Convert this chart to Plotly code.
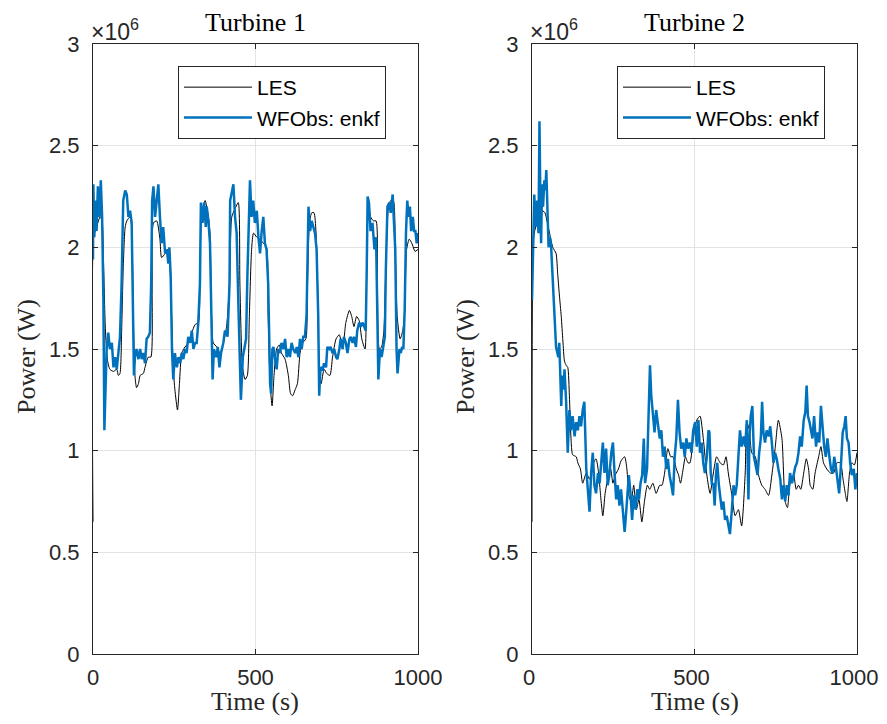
import plotly.graph_objects as go

# power in units of 1e6 W, time in s

# Turbine 1 - LES reference
t1_les_time = [0, 2, 11, 22, 28, 32, 38, 44, 52, 63,
               73, 78, 83, 88, 93, 99, 104, 114, 119, 124,
               129, 134, 140, 145, 155, 160, 170, 178, 182, 186,
               196, 206, 211, 222, 229, 235, 242, 247, 252, 260,
               266, 273, 283, 293, 304, 314, 324, 329, 334, 345,
               355, 360, 365, 370, 381, 391, 401, 411, 420, 427,
               437, 447, 452, 460, 468, 475, 481, 488, 494, 504,
               514, 524, 534, 539, 545, 551, 557, 565, 573, 580,
               591, 601, 608, 614, 622, 629, 637, 645, 655, 660,
               666, 673, 680, 686, 691, 696, 702, 711, 719, 729,
               737, 748, 758, 768, 778, 789, 796, 803, 811, 819,
               827, 837, 842, 847, 854, 863, 871, 875, 881, 888,
               895, 901, 908, 916, 924, 930, 936, 945, 953, 959,
               965, 973, 981, 991, 1000]
t1_les_power = [0.65, 2.05, 2.10, 2.15, 2.13, 1.95, 1.60, 1.45, 1.40, 1.39,
                1.40, 1.37, 1.38, 1.58, 1.90, 2.10, 2.13, 2.15, 2.10, 1.66,
                1.37, 1.31, 1.33, 1.37, 1.38, 1.41, 1.46, 1.46, 1.82, 2.12,
                2.13, 2.04, 1.95, 1.97, 1.99, 1.95, 1.66, 1.40, 1.30, 1.20,
                1.33, 1.48, 1.51, 1.53, 1.58, 1.62, 1.63, 1.90, 2.15, 2.23,
                2.15, 2.07, 1.66, 1.53, 1.51, 1.48, 1.53, 1.61, 1.82, 2.15,
                2.19, 2.22, 1.82, 1.41, 1.35, 1.37, 1.66, 1.99, 2.07, 2.05,
                2.04, 2.02, 2.00, 1.66, 1.33, 1.22, 1.37, 1.50, 1.52, 1.48,
                1.45, 1.37, 1.28, 1.27, 1.30, 1.33, 1.48, 1.53, 1.55, 1.82,
                2.12, 2.17, 2.17, 2.08, 1.82, 1.41, 1.33, 1.40, 1.38, 1.37,
                1.46, 1.55, 1.57, 1.50, 1.63, 1.69, 1.66, 1.61, 1.66, 1.64,
                1.55, 1.50, 1.90, 2.23, 2.15, 2.13, 2.13, 1.82, 1.50, 1.51,
                1.59, 1.90, 2.18, 2.23, 2.23, 1.99, 1.66, 1.55, 1.59, 1.69,
                1.99, 2.04, 2.02, 1.98, 1.99]

# Turbine 1 - WFObs: enkf estimate
t1_obs_time = [0, 1, 4, 7, 11, 15, 20, 24, 28, 32,
               35, 38, 42, 47, 52, 58, 63, 68, 73, 78,
               83, 88, 93, 99, 104, 109, 114, 119, 122, 126,
               129, 134, 140, 145, 150, 155, 160, 165, 170, 175,
               179, 182, 186, 191, 196, 201, 206, 211, 216, 222,
               227, 232, 235, 239, 243, 247, 252, 258, 263, 268,
               273, 278, 283, 288, 293, 299, 304, 309, 314, 319,
               324, 329, 332, 337, 342, 347, 350, 355, 360, 365,
               368, 372, 379, 384, 389, 394, 401, 406, 411, 414,
               420, 422, 427, 432, 437, 442, 447, 452, 455, 461,
               466, 471, 475, 479, 483, 488, 493, 498, 504, 509,
               514, 519, 524, 529, 534, 539, 545, 548, 552, 555,
               560, 565, 570, 575, 580, 586, 591, 596, 601, 606,
               611, 616, 622, 627, 632, 637, 642, 647, 652, 657,
               663, 668, 673, 678, 683, 688, 693, 696, 700, 707,
               711, 717, 721, 727, 731, 737, 742, 748, 752, 758,
               762, 768, 772, 778, 783, 789, 793, 799, 803, 809,
               813, 819, 824, 830, 835, 839, 842, 845, 849, 854,
               860, 866, 871, 875, 878, 883, 888, 893, 898, 901,
               906, 912, 916, 922, 926, 930, 934, 937, 943, 947,
               951, 955, 959, 963, 967, 971, 975, 979, 984, 988,
               992, 996, 1000]
t1_obs_power = [1.94, 2.31, 2.05, 2.23, 2.08, 2.30, 2.15, 2.33, 2.15, 1.74,
                1.10, 1.33, 1.50, 1.58, 1.50, 1.53, 1.41, 1.46, 1.40, 1.48,
                1.56, 1.82, 2.23, 2.28, 2.26, 2.15, 2.18, 2.12, 1.82, 1.37,
                1.46, 1.50, 1.45, 1.50, 1.45, 1.48, 1.43, 1.55, 1.56, 1.58,
                1.82, 2.23, 2.30, 2.15, 2.23, 2.31, 2.15, 2.02, 2.10, 1.97,
                1.99, 1.92, 2.00, 1.86, 1.50, 1.35, 1.48, 1.41, 1.46, 1.43,
                1.48, 1.45, 1.50, 1.48, 1.56, 1.53, 1.59, 1.50, 1.53, 1.53,
                1.63, 1.82, 2.22, 2.12, 2.22, 2.10, 2.20, 2.13, 2.02, 1.66,
                1.35, 1.50, 1.46, 1.51, 1.41, 1.48, 1.53, 1.59, 1.58, 1.56,
                1.82, 2.23, 2.28, 2.31, 2.15, 2.07, 1.74, 1.50, 1.25, 1.46,
                1.50, 1.55, 1.86, 2.15, 2.33, 2.15, 2.23, 2.12, 2.18, 2.05,
                1.97, 2.08, 2.15, 2.02, 1.99, 1.82, 1.33, 1.28, 1.50, 1.51,
                1.46, 1.40, 1.50, 1.48, 1.53, 1.50, 1.55, 1.46, 1.50, 1.46,
                1.53, 1.50, 1.48, 1.51, 1.46, 1.55, 1.50, 1.56, 1.56, 1.66,
                2.20, 2.08, 2.13, 2.10, 2.07, 1.99, 1.66, 1.27, 1.41, 1.40,
                1.43, 1.41, 1.51, 1.50, 1.51, 1.48, 1.50, 1.46, 1.45, 1.50,
                1.55, 1.50, 1.56, 1.53, 1.48, 1.55, 1.56, 1.53, 1.56, 1.51,
                1.59, 1.63, 1.61, 1.63, 1.61, 1.59, 1.86, 2.25, 2.22, 2.08,
                2.12, 1.99, 2.05, 1.56, 1.35, 1.50, 1.46, 1.51, 1.56, 1.89,
                2.20, 2.22, 2.17, 2.26, 2.15, 1.99, 1.50, 1.38, 1.50, 1.48,
                1.51, 1.50, 1.69, 2.07, 2.23, 2.15, 2.20, 2.08, 2.15, 2.08,
                2.08, 2.02, 2.07]

# Turbine 2 - LES reference
t2_les_time = [0, 3, 7, 16, 23, 33, 40, 46, 54, 64,
               74, 79, 84, 90, 95, 100, 105, 110, 115, 120,
               125, 136, 141, 149, 156, 167, 177, 187, 197, 205,
               211, 218, 225, 233, 242, 249, 256, 266, 274, 285,
               292, 298, 305, 313, 321, 329, 338, 346, 355, 362,
               372, 382, 393, 400, 408, 418, 427, 434, 444, 451,
               457, 465, 472, 480, 486, 496, 507, 517, 527, 538,
               548, 558, 568, 579, 589, 597, 604, 615, 625, 635,
               645, 656, 661, 669, 676, 687, 697, 707, 717, 728,
               738, 748, 758, 769, 779, 786, 794, 805, 813, 820,
               827, 836, 844, 851, 856, 864, 871, 882, 889, 897,
               907, 918, 928, 938, 949, 957, 964, 969, 977, 984,
               992, 1000]
t2_les_power = [0.65, 2.00, 2.07, 2.13, 2.18, 2.18, 2.17, 2.13, 2.07, 2.00,
                1.97, 1.87, 1.77, 1.66, 1.54, 1.44, 1.42, 1.41, 1.27, 1.06,
                0.98, 0.97, 0.94, 0.91, 0.84, 0.89, 0.86, 0.93, 0.96, 0.89,
                0.78, 0.68, 0.79, 0.86, 0.91, 0.84, 0.88, 0.91, 0.95, 0.97,
                0.91, 0.78, 0.75, 0.83, 0.71, 0.76, 0.65, 0.75, 0.83, 0.81,
                0.84, 0.79, 0.83, 0.83, 0.89, 1.01, 0.97, 0.97, 0.91, 0.88,
                0.84, 0.91, 0.97, 0.94, 0.94, 1.06, 1.15, 1.17, 1.06, 0.88,
                0.79, 0.89, 0.97, 0.94, 0.93, 0.97, 0.89, 0.78, 0.68, 0.71,
                0.63, 0.89, 1.14, 1.10, 0.99, 0.97, 0.88, 0.83, 0.81, 0.78,
                0.88, 1.01, 1.15, 1.06, 0.75, 0.72, 0.84, 0.88, 0.81, 0.83,
                0.81, 0.89, 0.96, 0.91, 0.83, 0.81, 0.89, 0.97, 1.02, 0.94,
                0.91, 0.89, 0.89, 0.94, 0.94, 0.86, 0.79, 0.75, 0.89, 0.94,
                0.93, 0.99]

# Turbine 2 - WFObs: enkf estimate
t2_obs_time = [0, 3, 7, 11, 16, 20, 23, 26, 28, 31,
               34, 38, 41, 44, 48, 51, 55, 59, 62, 67,
               71, 74, 81, 84, 90, 93, 97, 100, 105, 110,
               115, 120, 125, 131, 136, 141, 146, 151, 156, 161,
               167, 172, 177, 182, 187, 192, 197, 203, 208, 213,
               218, 223, 228, 233, 238, 244, 249, 254, 259, 264,
               269, 274, 280, 285, 288, 293, 298, 303, 308, 313,
               319, 324, 329, 334, 339, 344, 348, 354, 359, 363,
               367, 372, 377, 382, 387, 393, 398, 403, 408, 413,
               418, 423, 429, 434, 439, 444, 449, 454, 459, 465,
               470, 475, 480, 486, 491, 496, 502, 507, 512, 517,
               522, 527, 532, 538, 543, 546, 550, 554, 558, 562,
               566, 570, 575, 579, 584, 589, 594, 599, 604, 609,
               615, 620, 625, 630, 635, 640, 645, 651, 656, 661,
               666, 669, 673, 678, 683, 689, 694, 699, 704, 708,
               712, 717, 722, 728, 733, 738, 743, 748, 753, 758,
               764, 769, 774, 779, 784, 789, 794, 800, 805, 810,
               815, 820, 825, 830, 836, 841, 845, 849, 854, 858,
               863, 868, 874, 879, 884, 889, 894, 899, 904, 909,
               915, 920, 925, 930, 935, 940, 945, 951, 956, 961,
               965, 969, 974, 979, 984, 990, 995, 1000]
t2_obs_power = [1.74, 1.98, 2.26, 2.10, 2.23, 2.07, 2.62, 2.18, 2.02, 2.31,
                2.20, 2.33, 2.28, 2.38, 2.18, 2.00, 2.05, 2.00, 1.90, 1.74,
                1.59, 1.51, 1.46, 1.53, 1.22, 1.37, 1.30, 1.40, 1.24, 0.99,
                1.20, 1.10, 1.17, 1.07, 1.14, 1.10, 1.17, 1.12, 1.20, 1.24,
                0.91, 0.78, 0.70, 0.89, 0.99, 0.83, 0.79, 0.89, 0.84, 0.94,
                1.04, 0.89, 1.01, 0.83, 0.88, 0.99, 1.04, 0.89, 0.76, 0.83,
                0.73, 0.81, 0.70, 0.60, 0.66, 0.79, 0.88, 0.79, 0.66, 0.78,
                0.71, 0.81, 0.76, 0.84, 0.88, 1.06, 0.84, 0.91, 1.14, 1.42,
                1.27, 1.17, 1.09, 1.20, 1.12, 1.06, 1.10, 0.97, 1.02, 0.91,
                0.96, 0.88, 0.83, 0.78, 0.97, 1.06, 1.25, 1.09, 1.01, 1.04,
                0.97, 1.06, 1.01, 1.04, 0.99, 1.10, 1.14, 1.02, 1.15, 0.99,
                1.04, 0.94, 0.89, 0.97, 1.10, 1.09, 0.89, 0.83, 0.84, 0.73,
                0.88, 0.94, 0.83, 0.76, 0.71, 0.75, 0.66, 0.68, 0.63, 0.59,
                0.71, 0.83, 0.78, 0.83, 0.97, 1.10, 1.02, 1.07, 1.02, 1.15,
                0.76, 1.06, 1.17, 1.22, 0.97, 0.92, 0.88, 0.99, 1.06, 1.24,
                1.09, 1.04, 1.10, 1.07, 1.12, 1.04, 0.94, 0.99, 0.96, 0.91,
                0.86, 0.76, 0.83, 0.75, 0.83, 0.78, 0.89, 0.84, 0.88, 0.92,
                0.94, 0.99, 1.07, 1.02, 1.15, 1.19, 1.32, 1.17, 1.14, 1.10,
                1.06, 1.17, 1.02, 1.09, 1.04, 1.22, 1.10, 1.02, 0.97, 1.06,
                0.97, 0.91, 0.89, 0.97, 0.92, 0.86, 0.79, 0.94, 1.09, 1.12,
                1.17, 1.06, 1.04, 0.94, 0.88, 0.91, 0.81, 0.89]

for a, b in [(t1_les_time, t1_les_power), (t1_obs_time, t1_obs_power),
             (t2_les_time, t2_les_power), (t2_obs_time, t2_obs_power)]:
    assert len(a) == len(b), (len(a), len(b))

titles = ["Turbine 1", "Turbine 2"]
y_ticks = [0, 0.5, 1, 1.5, 2, 2.5, 3]
x_ticks = [0, 500, 1000]

# the page body keeps its default 8px margin, so the figure is a bit smaller
OFF = 8
W, H = 887 - 2 * OFF, 724 - 2 * OFF
AX = "#262626"
GRID = "#e3e3e3"
BLUE = "#0072BD"
SANS = "Liberation Sans, Arial, sans-serif"
SERIF = "Liberation Serif, Times New Roman, serif"


def fx(px):
    return (px - OFF) / W


def fy(py):
    return 1 - (py - OFF) / H


fig = go.Figure()

panels = [
    (t1_les_time, t1_les_power, t1_obs_time, t1_obs_power, "x", "y", "legend"),
    (t2_les_time, t2_les_power, t2_obs_time, t2_obs_power, "x2", "y2", "legend2"),
]
for les_t, les_p, obs_t, obs_p, xa, ya, leg in panels:
    fig.add_trace(go.Scatter(x=les_t, y=les_p, mode="lines", name="LES",
                             line=dict(color="black", width=1, shape="spline", smoothing=0.6),
                             xaxis=xa, yaxis=ya, legend=leg))
    fig.add_trace(go.Scatter(x=obs_t, y=obs_p, mode="lines", name="WFObs: enkf",
                             line=dict(color=BLUE, width=2.5),
                             xaxis=xa, yaxis=ya, legend=leg))

# axes boxes in window pixels
x_dom = [(93, 418), (532, 857)]
y_top, y_bot = 44, 654

axis_common = dict(showline=True, linecolor=AX, linewidth=1, mirror="ticks",
                   ticks="inside", ticklen=5, tickcolor=AX, showgrid=True,
                   gridcolor=GRID, gridwidth=1, zeroline=False, automargin=False,
                   tickfont=dict(family=SANS, size=22, color=AX))

layout = dict(width=W, height=H, margin=dict(l=0, r=0, t=0, b=0),
              paper_bgcolor="white", plot_bgcolor="white", showlegend=True)

annotations = []
for i, (x0, x1) in enumerate(x_dom):
    sfx = "" if i == 0 else str(i + 1)
    layout["xaxis" + sfx] = dict(axis_common, domain=[fx(x0), fx(x1)], range=[0, 1000],
                                 tickvals=x_ticks, anchor="y" + sfx, ticklabelstandoff=4,
                                 ticklabeloverflow="allow", ticklabelshift=-3 * i)
    layout["yaxis" + sfx] = dict(axis_common, domain=[fy(y_bot), fy(y_top)], range=[0, 3],
                                 tickvals=y_ticks, anchor="x" + sfx, ticklabelstandoff=8)
    layout["legend" + sfx] = dict(x=fx(x0 + 85), y=fy(66), xanchor="left", yanchor="top",
                                  bgcolor="white", bordercolor=AX, borderwidth=1,
                                  font=dict(family=SANS, size=21, color="black"),
                                  itemwidth=68, tracegroupgap=0)
    serif = dict(family=SERIF, size=26, color=AX)
    annotations += [
        dict(text=titles[i], x=fx((x0 + x1) / 2), y=fy(23), font=dict(serif, color="black")),
        dict(text="Time (s)", x=fx((x0 + x1) / 2), y=fy(701), font=serif),
        dict(text="Power (W)", x=fx(x0 - 67), y=fy(357), textangle=-90, font=serif),
        dict(text="\u00d710<sup>6</sup>", x=fx(x0 - 4), y=fy(30), xanchor="left",
             font=dict(family=SANS, size=23, color=AX)),
    ]

for a in annotations:
    a.update(xref="paper", yref="paper", showarrow=False)
    a.setdefault("xanchor", "center")
    a.setdefault("yanchor", "middle")

layout["annotations"] = annotations
fig.update_layout(**layout)

fig.write_html("out.html")
